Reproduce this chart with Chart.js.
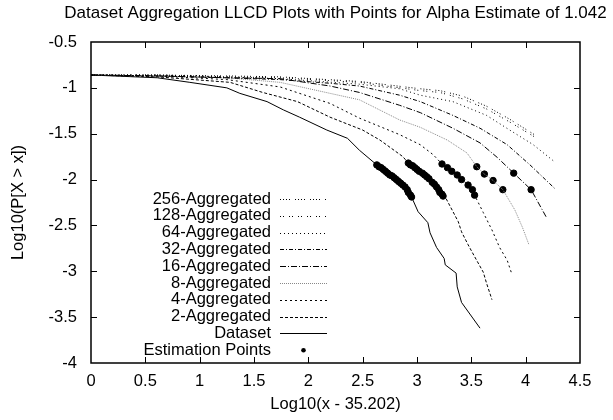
<!DOCTYPE html>
<html>
<head>
  <title>Dataset Aggregation LLCD Plots</title>
  <script src="https://cdn.jsdelivr.net/npm/chart.js"></script>
  <style>
    body { margin: 0; padding: 0; background: #fff; }
    #wrap { width: 613px; height: 420px; }
  </style>
</head>
<body>
  <div id="wrap"><canvas id="chart" width="613" height="420"></canvas></div>
  <script>
    // Values, [log10 x, log10 P]
    const agg256 = [[0,-0.86],[0.61,-0.86],[1.25,-0.87],[1.74,-0.88],[2.47,-0.93],[3.03,-1.01],[3.21,-1.03],[3.42,-1.09],[3.64,-1.20],[3.85,-1.34],[4.08,-1.51]];
    const agg128 = [[0,-0.86],[0.61,-0.86],[1.25,-0.88],[1.74,-0.89],[2.47,-0.94],[3.03,-1.03],[3.21,-1.05],[3.42,-1.12],[3.64,-1.23],[3.85,-1.37],[4.09,-1.54]];
    const agg64 = [[0,-0.86],[0.61,-0.86],[1.25,-0.88],[1.74,-0.90],[2.47,-0.96],[2.84,-1.01],[3.03,-1.08],[3.33,-1.15],[3.64,-1.30],[3.88,-1.48],[4.07,-1.62],[4.27,-1.81]];
    const agg32 = [[0,-0.86],[0.61,-0.87],[1.25,-0.89],[1.74,-0.91],[2.20,-0.95],[2.47,-0.98],[2.84,-1.08],[3.03,-1.15],[3.33,-1.30],[3.58,-1.44],[3.83,-1.62],[4.04,-1.84],[4.27,-2.10]];
    const agg16 = [[0,-0.86],[0.61,-0.87],[1.25,-0.89],[1.74,-0.90],[2.20,-0.98],[2.47,-1.05],[2.84,-1.19],[3.03,-1.27],[3.33,-1.44],[3.58,-1.60],[3.74,-1.76],[3.89,-1.93],[4.05,-2.11],[4.19,-2.41]];
    const agg8 = [[0,-0.86],[0.61,-0.87],[1.25,-0.89],[1.74,-0.94],[2.20,-1.06],[2.47,-1.13],[2.84,-1.35],[3.03,-1.43],[3.28,-1.57],[3.46,-1.71],[3.55,-1.86],[3.62,-1.94],[3.70,-2.01],[3.79,-2.11],[3.90,-2.33],[3.97,-2.52],[4.03,-2.71]];
    const agg4 = [[0,-0.86],[0.61,-0.87],[1.25,-0.91],[1.74,-0.99],[2.20,-1.17],[2.47,-1.33],[2.84,-1.51],[3.03,-1.62],[3.15,-1.73],[3.23,-1.83],[3.28,-1.87],[3.32,-1.91],[3.37,-1.95],[3.41,-2.00],[3.47,-2.06],[3.51,-2.11],[3.53,-2.17],[3.61,-2.36],[3.69,-2.55],[3.76,-2.74],[3.83,-2.88],[3.87,-3.02]];
    const agg2 = [[0,-0.86],[0.61,-0.88],[1.28,-0.94],[1.58,-1.05],[1.90,-1.15],[2.20,-1.32],[2.50,-1.46],[2.66,-1.57],[2.87,-1.75],[2.92,-1.82],[3.05,-1.93],[3.14,-2.03],[3.18,-2.08],[3.21,-2.14],[3.24,-2.18],[3.26,-2.19],[3.38,-2.46],[3.41,-2.57],[3.47,-2.71],[3.53,-2.84],[3.61,-3.01],[3.64,-3.13],[3.69,-3.31]];
    const dataset = [[0,-0.86],[0.61,-0.89],[0.91,-0.94],[1.25,-1.00],[1.37,-1.06],[1.62,-1.15],[1.77,-1.24],[1.92,-1.32],[2.17,-1.46],[2.36,-1.55],[2.47,-1.68],[2.54,-1.75],[2.63,-1.84],[2.75,-1.95],[2.85,-2.04],[2.91,-2.11],[2.95,-2.19],[3.01,-2.35],[3.10,-2.47],[3.12,-2.58],[3.18,-2.74],[3.25,-2.86],[3.26,-2.93],[3.36,-3.02],[3.37,-3.17],[3.41,-3.34],[3.58,-3.62]];

    // Estimation points (the fat dots)
    const estDataset = [[2.63,-1.84],[2.65,-1.86],[2.67,-1.87],[2.69,-1.89],[2.71,-1.91],[2.73,-1.93],[2.75,-1.95],[2.77,-1.96],[2.79,-1.98],[2.81,-2.00],[2.83,-2.02],[2.85,-2.04],[2.87,-2.06],[2.89,-2.08],[2.91,-2.11],[2.92,-2.14],[2.94,-2.17],[2.95,-2.19]];
    const est2 = [[2.92,-1.82],[2.94,-1.84],[2.96,-1.85],[2.98,-1.87],[3.00,-1.89],[3.02,-1.91],[3.05,-1.93],[3.07,-1.95],[3.09,-1.97],[3.11,-1.99],[3.14,-2.03],[3.16,-2.05],[3.18,-2.08],[3.20,-2.11],[3.21,-2.14],[3.23,-2.16],[3.24,-2.18]];
    const est4 = [[3.23,-1.83],[3.28,-1.87],[3.32,-1.91],[3.37,-1.95],[3.41,-2.00],[3.47,-2.06],[3.51,-2.11],[3.53,-2.17]];
    const est8 = [[3.55,-1.86],[3.62,-1.94],[3.70,-2.01],[3.79,-2.11]];
    const est16 = [[3.89,-1.93],[4.05,-2.11]];

    const seriesLabels = ['256-Aggregated','128-Aggregated','64-Aggregated','32-Aggregated','16-Aggregated','8-Aggregated','4-Aggregated','2-Aggregated','Dataset'];
    const seriesData = [agg256, agg128, agg64, agg32, agg16, agg8, agg4, agg2, dataset];
    const seriesDash = [[1,2,1,2,1,2,1,5],[1,2,1,5],[1,3],[4,2,1,2],[6,2,1,2],[1,1],[2,3],[3,2],[]];
    const seriesColor = ['#000','#000','#000','#000','#000','#888','#000','#000','#000'];

    const toXY = arr => arr.map(p => ({x: p[0], y: p[1]}));

    const datasets = seriesLabels.map((lab, i) => ({
      label: lab,
      type: 'line',
      data: toXY(seriesData[i]),
      borderColor: seriesColor[i],
      borderWidth: 1,
      borderDash: seriesDash[i],
      pointRadius: 0,
      tension: 0,
      fill: false
    }));
    datasets.push({
      label: 'Estimation Points',
      type: 'scatter',
      data: toXY([].concat(estDataset, est2, est4, est8, est16)),
      backgroundColor: '#000',
      borderColor: '#000',
      pointRadius: 3.2,
      pointHoverRadius: 3.2,
      showLine: false
    });

    const FONT = '"Liberation Sans", Arial, sans-serif';
    const tickFmt = v => String(Math.round(v * 10) / 10);

    // frame, inward ticks, titles and the gnuplot-style key
    const decor = {
      id: 'decor',
      afterDatasetsDraw(chart) {
        const ctx = chart.ctx;
        const a = chart.chartArea;
        const xs = chart.scales.x, ys = chart.scales.y;
        ctx.save();
        ctx.strokeStyle = '#000';
        ctx.lineWidth = 1.5;
        ctx.setLineDash([]);
        ctx.strokeRect(a.left, a.top, a.right - a.left, a.bottom - a.top);
        ctx.lineWidth = 1;
        ctx.beginPath();
        for (let v = 0.5; v < 4.5; v += 0.5) {
          const px = Math.round(xs.getPixelForValue(v)) + 0.5;
          ctx.moveTo(px, a.bottom); ctx.lineTo(px, a.bottom - 6);
          ctx.moveTo(px, a.top); ctx.lineTo(px, a.top + 6);
        }
        for (let v = -3.5; v < -0.5; v += 0.5) {
          const py = Math.round(ys.getPixelForValue(v)) + 0.5;
          ctx.moveTo(a.left, py); ctx.lineTo(a.left + 6, py);
          ctx.moveTo(a.right, py); ctx.lineTo(a.right - 6, py);
        }
        ctx.stroke();

        // titles
        ctx.fillStyle = '#000';
        ctx.font = '17px ' + FONT;
        ctx.textAlign = 'center';
        ctx.textBaseline = 'middle';
        ctx.fillText('Dataset Aggregation LLCD Plots with Points for Alpha Estimate of 1.042', (a.left + a.right) / 2, 13);
        ctx.font = '16.5px ' + FONT;
        ctx.fillText('Log10(x - 35.202)', (a.left + a.right) / 2, 404);
        ctx.save();
        ctx.translate(18, (a.top + a.bottom) / 2);
        ctx.rotate(-Math.PI / 2);
        ctx.fillText('Log10(P[X > x])', 0, 0);
        ctx.restore();

        // key
        const rowH = 16.8, y0 = 199, tx = 271, l0 = 280, l1 = 327;
        chart.data.datasets.forEach((ds, i) => {
          const y = y0 + i * rowH;
          ctx.textAlign = 'right';
          ctx.fillStyle = '#000';
          ctx.fillText(ds.label, tx, y);
          if (ds.type === 'scatter') {
            ctx.beginPath();
            ctx.arc((l0 + l1) / 2, y, 2.3, 0, Math.PI * 2);
            ctx.fill();
          } else {
            ctx.strokeStyle = ds.borderColor;
            ctx.setLineDash(ds.borderDash);
            ctx.beginPath();
            ctx.moveTo(l0, Math.round(y) + 0.5);
            ctx.lineTo(l1, Math.round(y) + 0.5);
            ctx.stroke();
            ctx.setLineDash([]);
          }
        });
        ctx.restore();
      }
    };

    const chart = new Chart(document.getElementById('chart').getContext('2d'), {
      type: 'line',
      data: { datasets: datasets },
      options: {
        responsive: false,
        animation: false,
        events: [],
        layout: { padding: { top: 42, right: 33, left: 0, bottom: 0 } },
        plugins: { legend: { display: false }, title: { display: false }, tooltip: { enabled: false } },
        scales: {
          x: {
            type: 'linear',
            min: 0, max: 4.5,
            border: { display: false },
            grid: { display: false, drawTicks: false },
            ticks: { stepSize: 0.5, color: '#000', padding: 9, font: { family: FONT, size: 16.5 }, callback: tickFmt },
            afterFit(scale) { scale.height = 57; }
          },
          y: {
            type: 'linear',
            min: -4, max: -0.5,
            border: { display: false },
            grid: { display: false, drawTicks: false },
            ticks: { stepSize: 0.5, color: '#000', padding: 14, font: { family: FONT, size: 16.5 }, callback: tickFmt },
            afterFit(scale) { scale.width = 91; }
          }
        }
      },
      plugins: [decor]
    });
  </script>
</body>
</html>
